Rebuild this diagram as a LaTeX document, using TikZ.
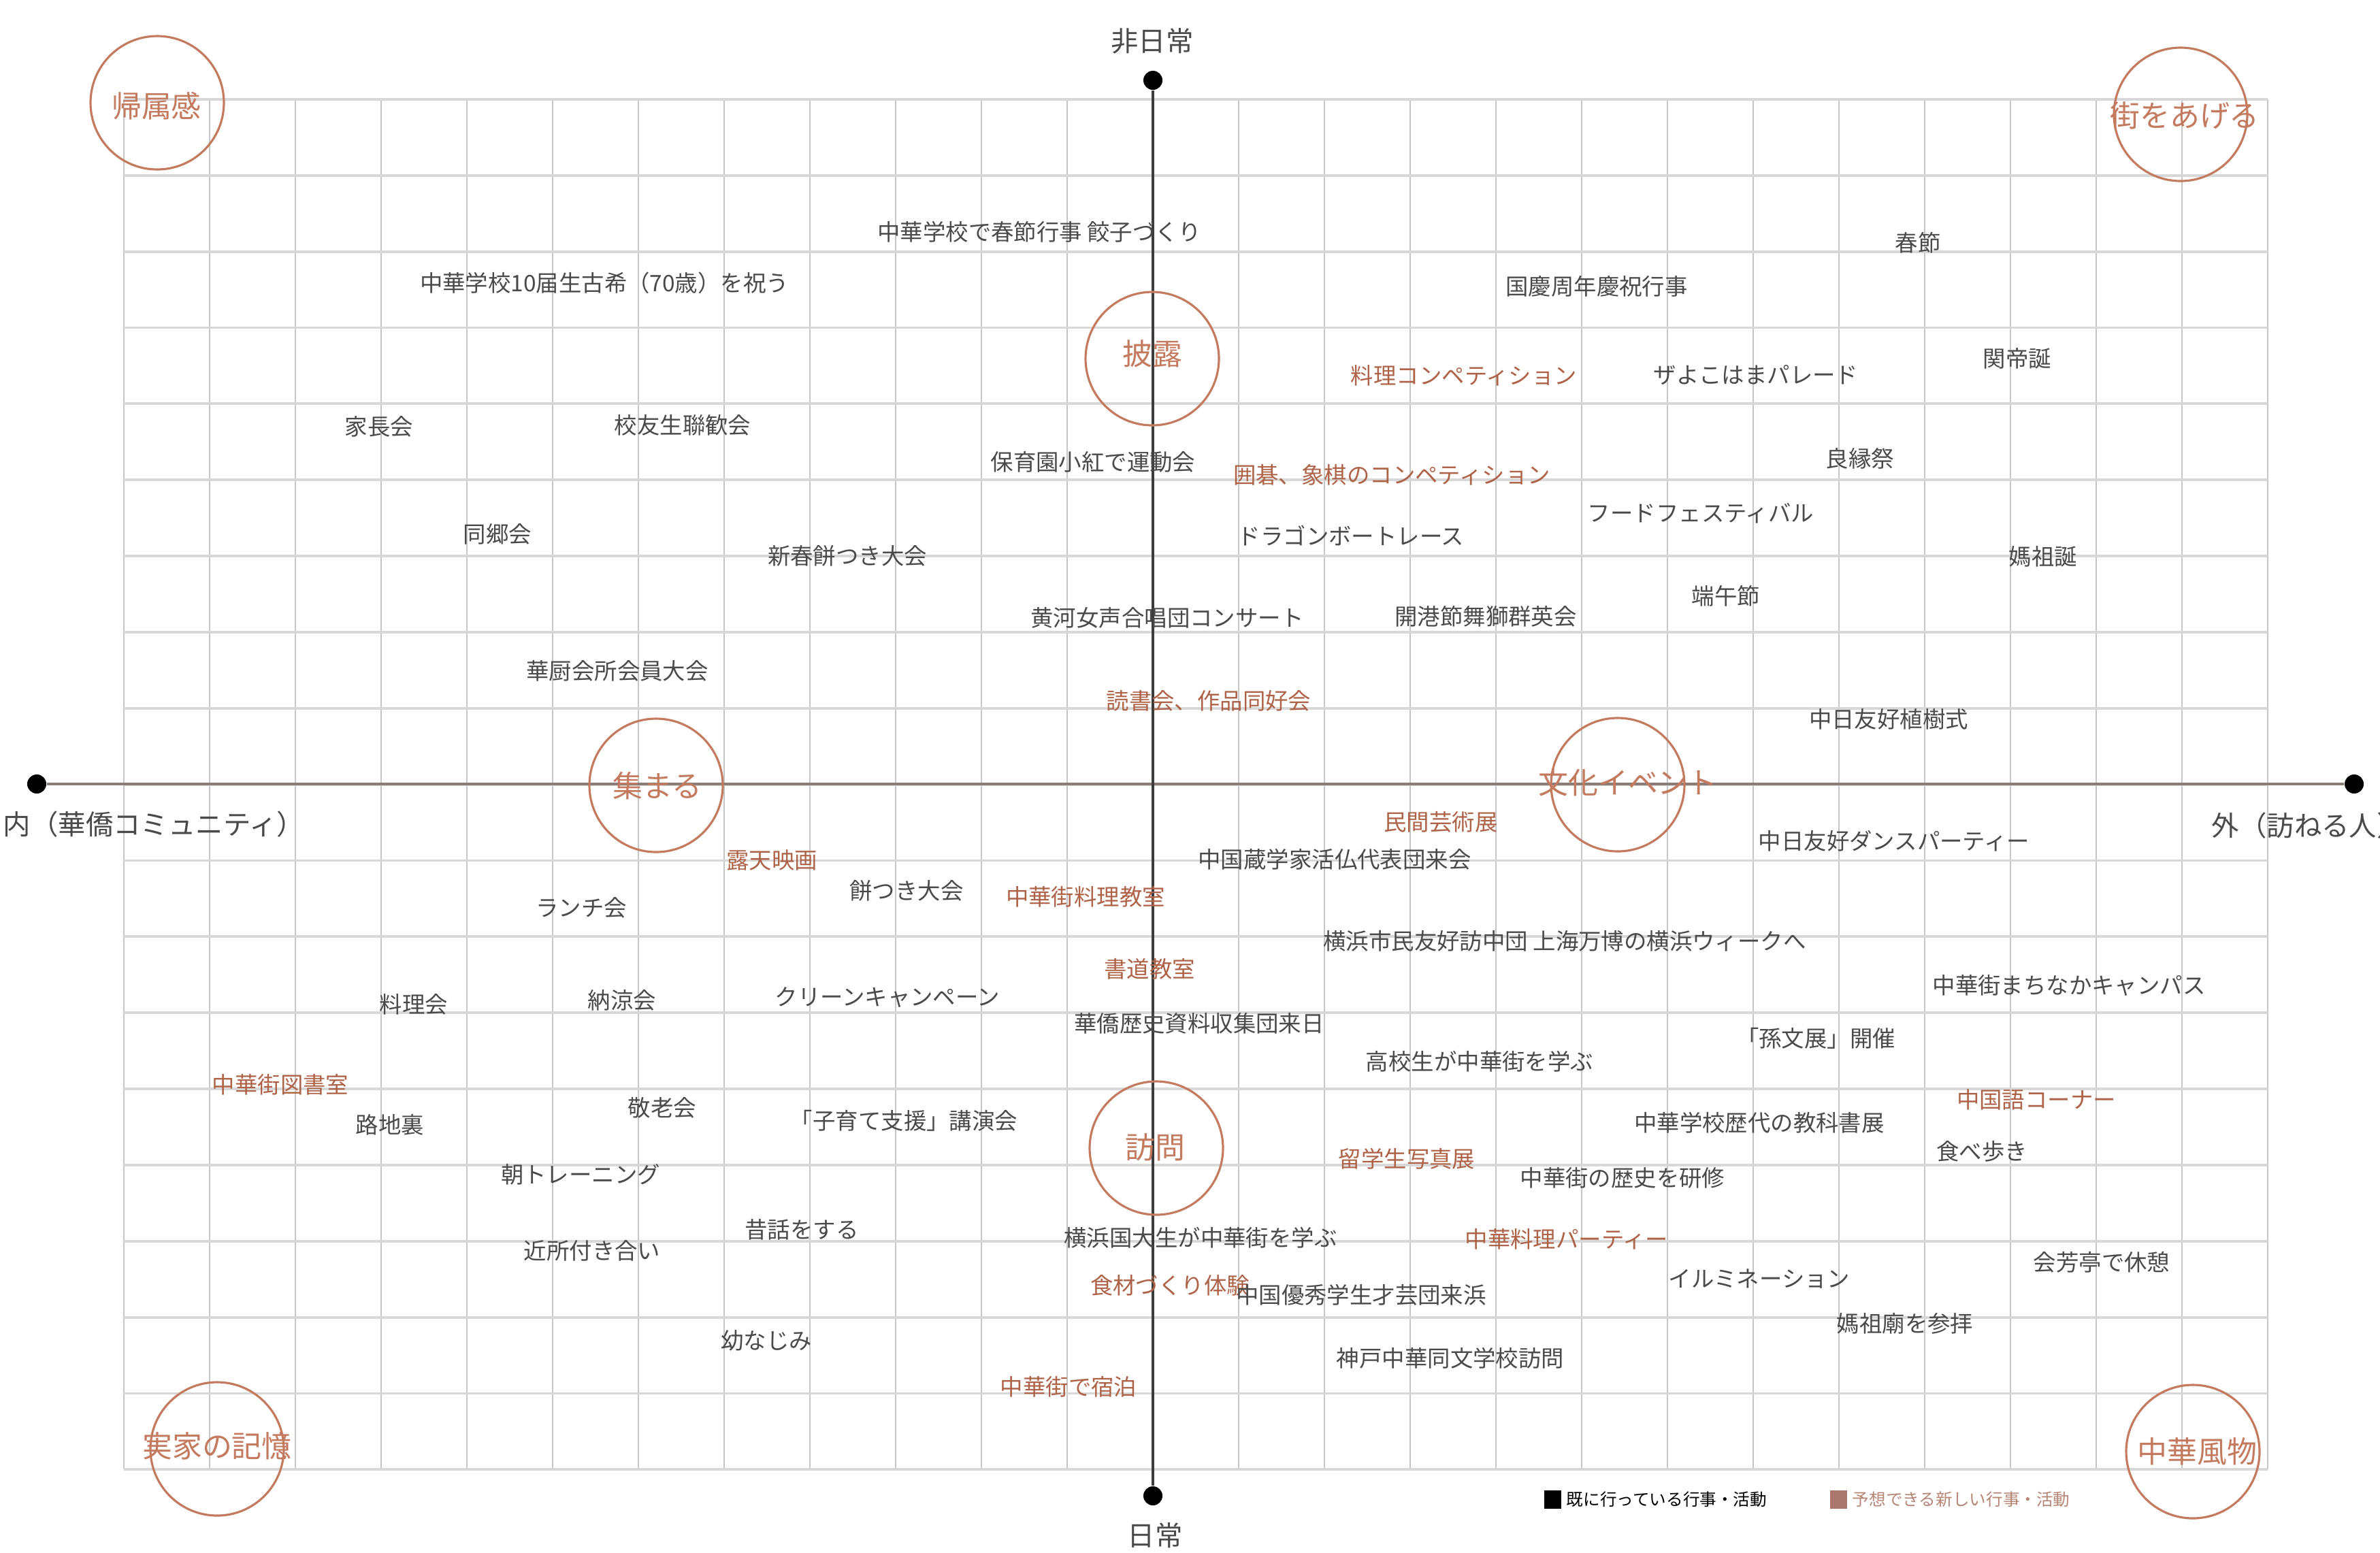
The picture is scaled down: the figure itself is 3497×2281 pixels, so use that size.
\documentclass[tikz,border=0pt]{standalone}
\usepackage{fontspec}
\setmainfont{Noto Sans CJK JP}
\usepackage{tikz}
\usetikzlibrary{positioning}
\definecolor{gInk}{HTML}{4A4A4A}
\definecolor{gIdea}{HTML}{AE6348}
\definecolor{gRing}{HTML}{C47A5E}
\definecolor{gGrid}{HTML}{C6C6C6}
\definecolor{gGridH}{HTML}{D8D8D8}
\definecolor{gAxisH}{HTML}{8A7D78}
\definecolor{gAxisV}{HTML}{3C3C3C}
\definecolor{gLegSq}{HTML}{A9776C}
\definecolor{gLegText}{HTML}{B58575}

\begin{document}
\begin{tikzpicture}[x=0.01cm, y=-0.01cm,
    act/.style={text=gInk, font=\fontsize{9.5}{11}\selectfont, inner sep=0pt},
    idea/.style={text=gIdea, font=\fontsize{9.5}{11}\selectfont, inner sep=0pt},
    ring/.style={draw=gRing, line width=0.9pt},
    ringtxt/.style={text=gRing, font=\fontsize{12.5}{14}\selectfont, inner sep=0pt},
    axislbl/.style={text=gInk, font=\fontsize{11.5}{13}\selectfont, inner sep=0pt},
    dot/.style={circle, fill=black, inner sep=0pt, minimum size=0.28cm},
    legsq/.style={inner sep=0pt, minimum width=0.25cm, minimum height=0.27cm},
    legtxt/.style={font=\fontsize{7}{8}\selectfont, inner sep=0pt}]
  \useasboundingbox (0,0) rectangle (3497,2281);
  % grid
  \foreach \i in {0,...,25}
    \draw[gGrid, line width=0.6pt] (182+126*\i,146) -- (182+126*\i,2159);
  \foreach \j in {0,...,18}
    \draw[gGridH, line width=1.1pt] (182,146+111.85*\j) -- (3332,146+111.85*\j);
  % axes
  \node[dot] (top) at (1694,118) {};
  \node[dot] (bottom) at (1694,2198) {};
  \node[dot] (left) at (54,1152) {};
  \node[dot] (right) at (3459,1152) {};
  \draw[gAxisH, line width=1.2pt] (left) -- (right);
  \draw[gAxisV, line width=0.9pt] (top) -- (bottom);
  \node[axislbl] (hinichijo) at (1693,60) {非日常};
  \node[axislbl] (nichijo) at (1697,2256) {日常};
  \node[axislbl] (uchi) at (226,1211) {内（華僑コミュニティ）};
  \node[axislbl, anchor=west] (soto) at (3249,1213) {外（訪ねる人）};
  % circles
  \draw[ring] (231,151) circle (98);
  \node[ringtxt] (kizoku) at (230,156) {帰属感};
  \draw[ring] (3204,168) circle (98);
  \node[ringtxt] (machi) at (3210,170) {街をあげる};
  \draw[ring] (1693,527) circle (98);
  \node[ringtxt] (hiro) at (1693,520) {披露};
  \draw[ring] (964,1154) circle (98);
  \node[ringtxt] (atsumaru) at (966,1155) {集まる};
  \draw[ring] (2377,1153) circle (98);
  \node[ringtxt] (bunka) at (2392,1150) {文化イベント};
  \draw[ring] (1699,1687) circle (98);
  \node[ringtxt] (homonc) at (1697,1686) {訪問};
  \draw[ring] (319,2129) circle (98);
  \node[ringtxt] (jikka) at (319,2125) {実家の記憶};
  \draw[ring] (3222,2133) circle (98);
  \node[ringtxt] (fubutsu) at (3228,2133) {中華風物};
  % upper half
  \node[act] (gyoza) at (1527,341) {中華学校で春節行事 餃子づくり};
  \node[act] (koki) at (888,416) {中華学校10届生古希（70歳）を祝う};
  \node[act] (kokei) at (2346,421) {国慶周年慶祝行事};
  \node[act] (shunsetsu) at (2818,357) {春節};
  \node[idea] (ryoricomp) at (2151,552) {料理コンペティション};
  \node[act] (parade) at (2580,551) {ザよこはまパレード};
  \node[act] (kanteitan) at (2964,527) {関帝誕};
  \node[act] (kacho) at (557,627) {家長会};
  \node[act] (koyu) at (1003,625) {校友生聯歓会};
  \node[act] (undokai) at (1606,679) {保育園小紅で運動会};
  \node[act] (ryoen) at (2733,674) {良縁祭};
  \node[idea] (igo) at (2045,698) {囲碁、象棋のコンペティション};
  \node[act] (dokyo) at (731,785) {同郷会};
  \node[act] (shinshun) at (1245,817) {新春餅つき大会};
  \node[act] (dragon) at (1985,787) {ドラゴンボートレース};
  \node[act] (foodfes) at (2499,754) {フードフェスティバル};
  \node[act] (masotan) at (3002,818) {媽祖誕};
  \node[act] (tango) at (2536,876) {端午節};
  \node[act] (koga) at (1715,908) {黄河女声合唱団コンサート};
  \node[act] (kaiko) at (2183,906) {開港節舞獅群英会};
  \node[act] (kachu) at (907,986) {華厨会所会員大会};
  \node[idea] (dokusho) at (1776,1030) {読書会、作品同好会};
  \node[act] (shokuju) at (2775,1057) {中日友好植樹式};
  % lower half
  \node[idea] (minkan) at (2117,1208) {民間芸術展};
  \node[act] (dance) at (2783,1236) {中日友好ダンスパーティー};
  \node[idea] (roten) at (1134,1264) {露天映画};
  \node[act] (zogaku) at (1961,1263) {中国蔵学家活仏代表団来会};
  \node[act] (lunch) at (854,1334) {ランチ会};
  \node[act] (mochi) at (1332,1309) {餅つき大会};
  \node[idea] (ryorikyo) at (1595,1318) {中華街料理教室};
  \node[act] (homon) at (2299,1383) {横浜市民友好訪中団 上海万博の横浜ウィークへ};
  \node[idea] (shodo) at (1689,1424) {書道教室};
  \node[act] (campus) at (3040,1448) {中華街まちなかキャンパス};
  \node[act] (ryorikai) at (608,1476) {料理会};
  \node[act] (noryo) at (914,1470) {納涼会};
  \node[act] (clean) at (1304,1465) {クリーンキャンペーン};
  \node[act] (shiryo) at (1762,1504) {華僑歴史資料収集団来日};
  \node[act] (sonbun) at (2668,1526) {「孫文展」開催};
  \node[act] (koko) at (2174,1560) {高校生が中華街を学ぶ};
  \node[idea] (tosho) at (412,1594) {中華街図書室};
  \node[idea] (chugokugo) at (2992,1616) {中国語コーナー};
  \node[act] (keiro) at (973,1628) {敬老会};
  \node[act] (kosodate) at (1328,1647) {「子育て支援」講演会};
  \node[act] (kyokasho) at (2585,1650) {中華学校歴代の教科書展};
  \node[act] (rojiura) at (573,1653) {路地裏};
  \node[act] (tabearuki) at (2912,1692) {食べ歩き};
  \node[idea] (shashin) at (2067,1703) {留学生写真展};
  \node[act] (asatore) at (853,1726) {朝トレーニング};
  \node[act] (kenshu) at (2384,1731) {中華街の歴史を研修};
  \node[act] (mukashi) at (1178,1807) {昔話をする};
  \node[act] (kokudai) at (1764,1819) {横浜国大生が中華街を学ぶ};
  \node[idea] (party) at (2302,1821) {中華料理パーティー};
  \node[act] (kinjo) at (870,1838) {近所付き合い};
  \node[act] (kaihotei) at (3088,1855) {会芳亭で休憩};
  \node[act] (illumi) at (2585,1879) {イルミネーション};
  \node[idea] (shokuzai) at (1719,1889) {食材づくり体験};
  \node[act] (saigei) at (2000,1903) {中国優秀学生才芸団来浜};
  \node[act] (masobyo) at (2799,1945) {媽祖廟を参拝};
  \node[act] (osana) at (1126,1970) {幼なじみ};
  \node[act] (kobe) at (2131,1996) {神戸中華同文学校訪問};
  \node[idea] (shukuhaku) at (1570,2038) {中華街で宿泊};
  % legend
  \node[legsq, fill=black] (sqdone) at (2281,2203) {};
  \node[legtxt, text=black, right=2pt of sqdone] (legdone) {既に行っている行事・活動};
  \node[legsq, fill=gLegSq] (sqnew) at (2701,2203) {};
  \node[legtxt, text=gLegText, right=2pt of sqnew] (legnew) {予想できる新しい行事・活動};
\end{tikzpicture}
\end{document}
